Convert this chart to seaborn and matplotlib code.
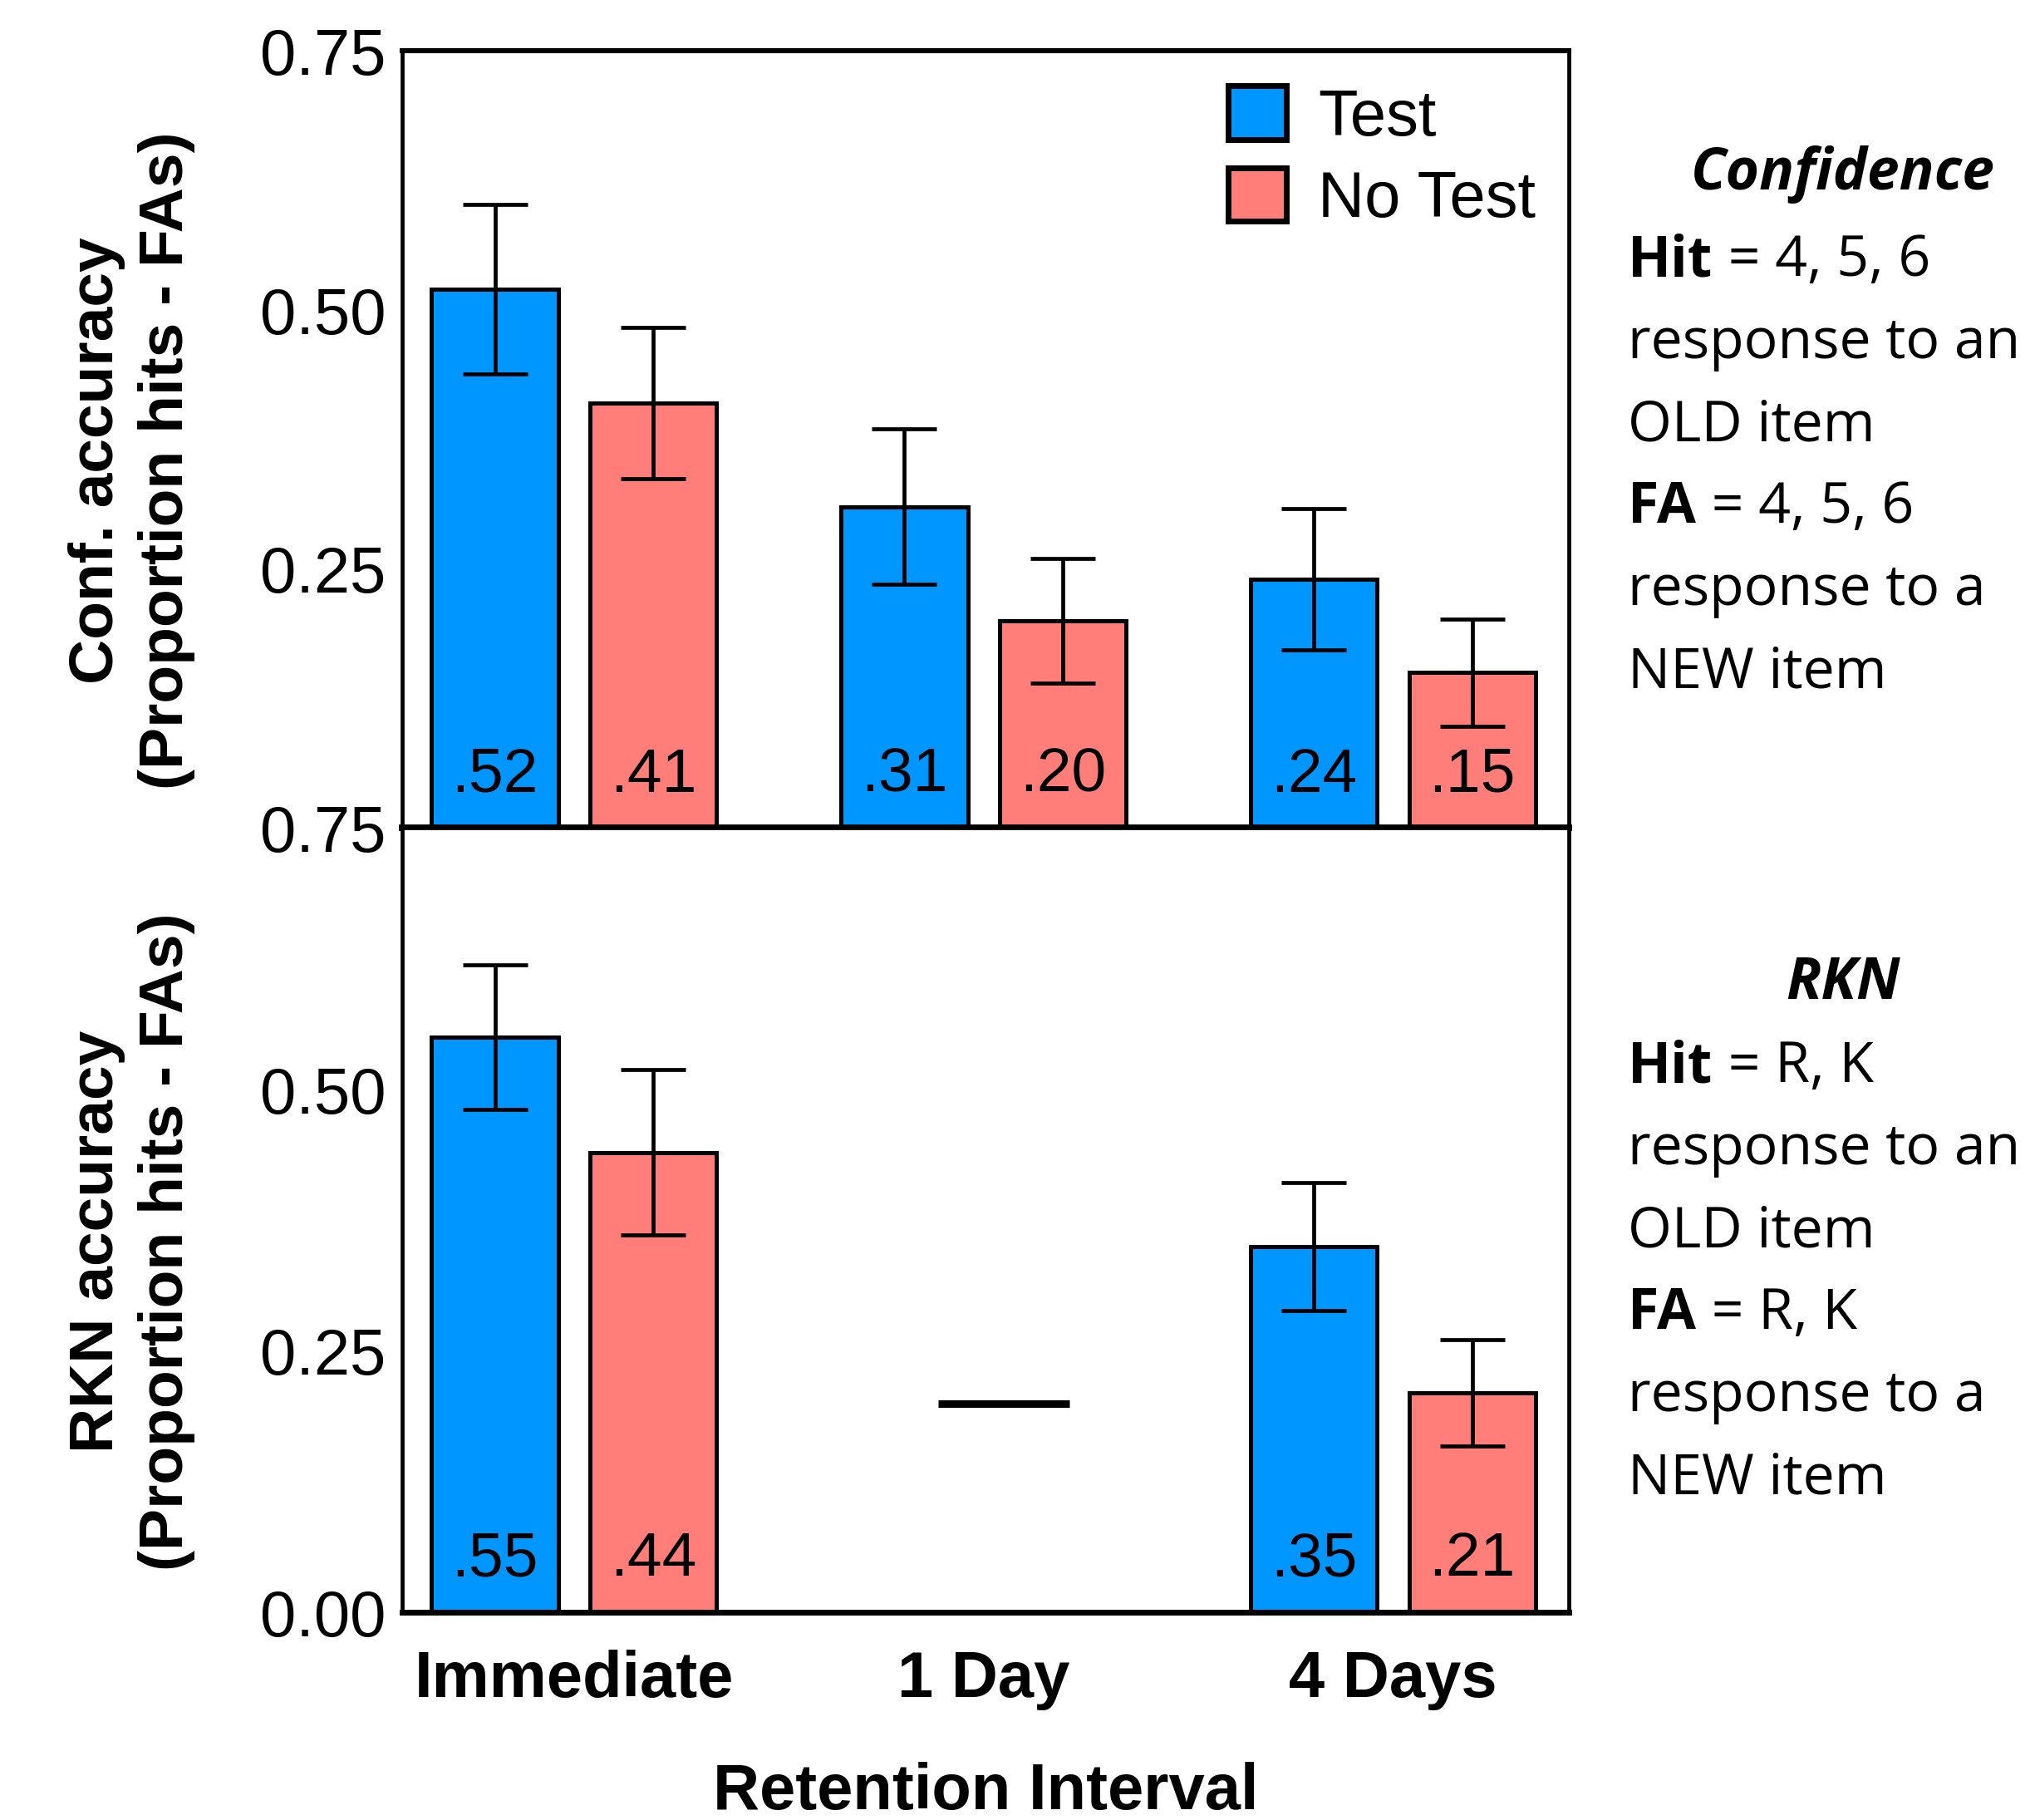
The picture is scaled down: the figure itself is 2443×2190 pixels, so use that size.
import numpy as np
import pandas as pd
import matplotlib.pyplot as plt
import seaborn as sns
from matplotlib.ticker import FormatStrFormatter

# data
intervals = ['Immediate', '1 Day', '4 Days']
conditions = ['Test', 'No Test']

conf_test = [0.52, 0.31, 0.24]
conf_notest = [0.41, 0.20, 0.15]
conf_test_err = [0.082, 0.075, 0.068]
conf_notest_err = [0.073, 0.060, 0.052]

rkn_test = [0.55, np.nan, 0.35]
rkn_notest = [0.44, np.nan, 0.21]
rkn_test_err = [0.069, np.nan, 0.061]
rkn_notest_err = [0.079, np.nan, 0.051]
rkn_1day_marker = 0.20

yticks_top = [0.25, 0.50, 0.75]
yticks_bottom = [0.0, 0.25, 0.50, 0.75]

conf_notes = [('Hit', ' = 4, 5, 6'), ('', 'response to an'), ('', 'OLD item'),
              ('FA', ' = 4, 5, 6'), ('', 'response to a'), ('', 'NEW item')]
rkn_notes = [('Hit', ' = R, K'), ('', 'response to an'), ('', 'OLD item'),
             ('FA', ' = R, K'), ('', 'response to a'), ('', 'NEW item')]

colors = {'Test': '#0096FF', 'No Test': '#FF7E79'}

sns.set_style('white')
plt.rcParams['font.family'] = ['Liberation Sans', 'DejaVu Sans']
plt.rcParams['text.color'] = 'black'
plt.rcParams['axes.labelcolor'] = 'black'
plt.rcParams['xtick.color'] = 'black'
plt.rcParams['ytick.color'] = 'black'


def make_df(test, notest, test_err, notest_err):
    df = pd.DataFrame({
        'interval': intervals * 2,
        'condition': ['Test'] * 3 + ['No Test'] * 3,
        'value': test + notest,
        'err': test_err + notest_err,
    })
    return df.dropna()


def draw_panel(ax, df, yticks, ylabel, show_legend):
    sns.barplot(data=df, x='interval', y='value', hue='condition',
                order=intervals, hue_order=conditions, palette=colors,
                saturation=1, width=0.772, gap=0.2, errorbar=None,
                edgecolor='black', linewidth=1.8, ax=ax, legend=show_legend)
    # error bars + value labels, matched by bar position
    for cond, cont in zip(conditions, ax.containers):
        for bar in cont:
            cx = bar.get_x() + bar.get_width() / 2
            name = intervals[int(round(cx))]
            row = df[(df.interval == name) & (df.condition == cond)].iloc[0]
            ax.errorbar(cx, row['value'], yerr=row['err'], fmt='none',
                        ecolor='black', elinewidth=1.7, capsize=14, capthick=1.7, zorder=5)
            ax.text(cx, 0.035, f"{row['value']:.2f}"[1:], ha='center', va='baseline',
                    fontsize=27, color='black', zorder=6)
    ax.set_xlim(-0.42, 2.43)
    ax.set_ylim(0, 0.75)
    ax.set_yticks(yticks)
    ax.yaxis.set_major_formatter(FormatStrFormatter('%.2f'))
    ax.tick_params(axis='y', length=0, pad=7, labelsize=28)
    ax.set_ylabel(ylabel, fontsize=27, fontweight='bold', linespacing=1.28)
    ax.yaxis.set_label_coords(-0.177, 0.473)
    for side in ['left', 'right', 'top', 'bottom']:
        ax.spines[side].set_linewidth(1.7)
        ax.spines[side].set_color('black')


fig = plt.figure(figsize=(12.215, 10.95), dpi=200)
ax_top = fig.add_axes([0.198, 0.545, 0.575, 0.427])
ax_bot = fig.add_axes([0.198, 0.114, 0.575, 0.431])

conf_df = make_df(conf_test, conf_notest, conf_test_err, conf_notest_err)
rkn_df = make_df(rkn_test, rkn_notest, rkn_test_err, rkn_notest_err)

draw_panel(ax_top, conf_df, yticks_top, 'Conf. accuracy\n(Proportion hits - FAs)', True)
draw_panel(ax_bot, rkn_df, yticks_bottom, 'RKN accuracy\n(Proportion hits - FAs)', False)

# no RKN data for 1 Day: short dash instead
ax_bot.hlines(rkn_1day_marker, 0.89, 1.21, color='black', linewidth=3.3, zorder=5)

ax_top.spines['top'].set_linewidth(2.2)
ax_top.spines['bottom'].set_linewidth(2.8)
ax_bot.spines['bottom'].set_linewidth(2.5)

ax_top.set_xticks([])
ax_top.set_xlabel('')
ax_bot.tick_params(axis='x', length=0, pad=16)
for lbl in ax_bot.get_xticklabels():
    lbl.set_fontsize(28)
    lbl.set_fontweight('bold')
ax_bot.set_xlabel('Retention Interval', fontsize=28, fontweight='bold', va='top')
ax_bot.xaxis.set_label_coords(0.5, -0.19)

# legend
leg = ax_top.legend(loc='upper left', bbox_to_anchor=(0.7075, 0.955), frameon=False,
                    fontsize=28, handlelength=0.9, handleheight=0.9, handletextpad=0.5,
                    labelspacing=0.3, borderpad=0, borderaxespad=0)
for h in leg.legend_handles:
    h.set_linewidth(2.5)
    h.set_edgecolor('black')

# side notes
note_font = ['Open Sans', 'DejaVu Sans']
step = 99 / 2190
fig.text(0.908, 0.904, 'Confidence', ha='center', va='center', fontsize=25,
         fontweight='bold', fontstyle='italic', family=note_font)
fig.text(0.908, 0.4594, 'RKN', ha='center', va='center', fontsize=25,
         fontweight='bold', fontstyle='italic', family=note_font)


def write_notes(notes, y0):
    for i, (bold, rest) in enumerate(notes):
        y = y0 - i * step
        t = fig.text(0.802, y, bold, ha='left', va='center', fontsize=24.5,
                     fontweight='bold', family=note_font)
        ax_bot.annotate(rest, xy=(1, 0.5), xycoords=t, ha='left', va='center',
                        fontsize=24.5, family=note_font, annotation_clip=False)


write_notes(conf_notes, 0.8565)
write_notes(rkn_notes, 0.4135)

fig.savefig('out.png', dpi=200)
